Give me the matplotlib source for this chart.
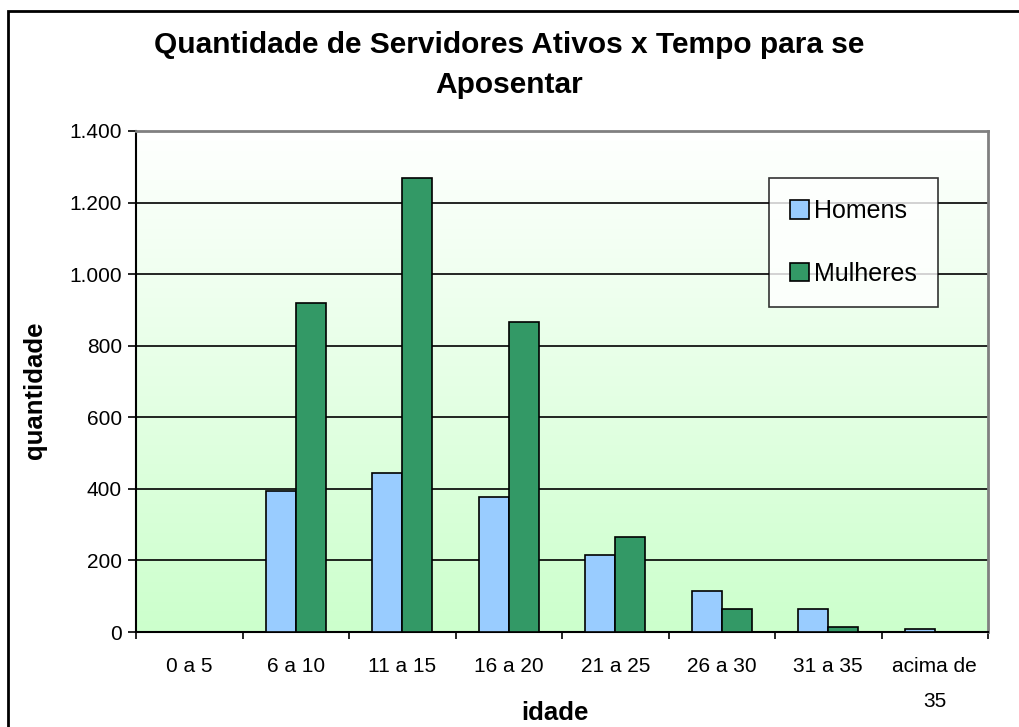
import numpy as np
import matplotlib
matplotlib.use('Agg')
import matplotlib.pyplot as plt
from matplotlib.colors import LinearSegmentedColormap
from matplotlib.patches import Rectangle

plt.rcParams['font.family'] = ['Liberation Sans', 'DejaVu Sans']

categorias = ['0 a 5', '6 a 10', '11 a 15', '16 a 20', '21 a 25', '26 a 30', '31 a 35', 'acima de\n35']
homens = [0, 395, 445, 378, 216, 115, 65, 9]
mulheres = [0, 920, 1270, 865, 266, 65, 15, 0]

fig = plt.figure(figsize=(10.19, 7.27), dpi=100)
ax = fig.add_axes([136 / 1019, 1 - 632 / 727, 852 / 1019, 501 / 727])

# gradient background (white at top -> light green at bottom)
cmap = LinearSegmentedColormap.from_list('bg', ['#ccffcc', '#ffffff'])
grad = np.linspace(0, 1, 256).reshape(-1, 1)
ax.imshow(grad, aspect='auto', cmap=cmap, origin='lower',
          extent=[0, 1, 0, 1], transform=ax.transAxes, zorder=0)

x = np.arange(len(categorias))
w = 0.28
ax.bar(x - w / 2, homens, w, color='#99ccff', edgecolor='black', linewidth=1.2,
       label='Homens', zorder=3)
ax.bar(x + w / 2, mulheres, w, color='#339966', edgecolor='black', linewidth=1.2,
       label='Mulheres', zorder=3)

ax.set_xlim(-0.5, len(categorias) - 0.5)
ax.set_ylim(0, 1400)
ax.set_yticks(range(0, 1401, 200))
ax.set_yticklabels(['0', '200', '400', '600', '800', '1.000', '1.200', '1.400'])
ax.yaxis.grid(True, color='black', linewidth=1.2, zorder=1)
ax.set_axisbelow(True)

ax.set_xticks(np.arange(-0.5, len(categorias), 1))
ax.set_xticklabels([])
ax.set_xticks(x, minor=True)
ax.set_xticklabels(categorias, minor=True, fontsize=15, linespacing=2.05, va='top')
ax.tick_params(axis='x', which='minor', length=0, pad=18)
ax.tick_params(axis='x', which='major', length=5, width=1.2, direction='out')
ax.tick_params(axis='y', length=6, width=1.2, direction='out', labelsize=15, pad=4)

for s in ['left', 'bottom']:
    ax.spines[s].set_color('black')
    ax.spines[s].set_linewidth(1.5)
for s in ['top', 'right']:
    ax.spines[s].set_color('#808080')
    ax.spines[s].set_linewidth(2)

fig.text(555 / 1019, 1 - 713 / 727, 'idade', ha='center', va='center',
         fontsize=18.5, fontweight='bold')
fig.text(35 / 1019, 1 - 390 / 727, 'quantidade', ha='center', va='center',
         rotation=90, fontsize=18.5, fontweight='bold')

fig.text(0.5, 1 - 65 / 727, 'Quantidade de Servidores Ativos x Tempo para se\nAposentar',
         ha='center', va='center', fontsize=21.5, fontweight='bold', linespacing=1.55)

leg = ax.legend(loc='upper left', bbox_to_anchor=((769 - 136) / 852, (632 - 178) / 501),
                fontsize=18, frameon=True, fancybox=False, edgecolor='black',
                handlelength=0.75, handleheight=0.75, handletextpad=0.2,
                labelspacing=1.55, borderpad=0.85, borderaxespad=0)
leg.get_frame().set_linewidth(1.2)
leg.set_zorder(5)

# outer chart border
fig.patches.append(Rectangle((8 / 1019, -0.1), 1.2, 1 - 11 / 727 + 0.1,
                             transform=fig.transFigure, fill=False,
                             edgecolor='black', linewidth=2, zorder=10))

fig.savefig('out.png', dpi=100)
